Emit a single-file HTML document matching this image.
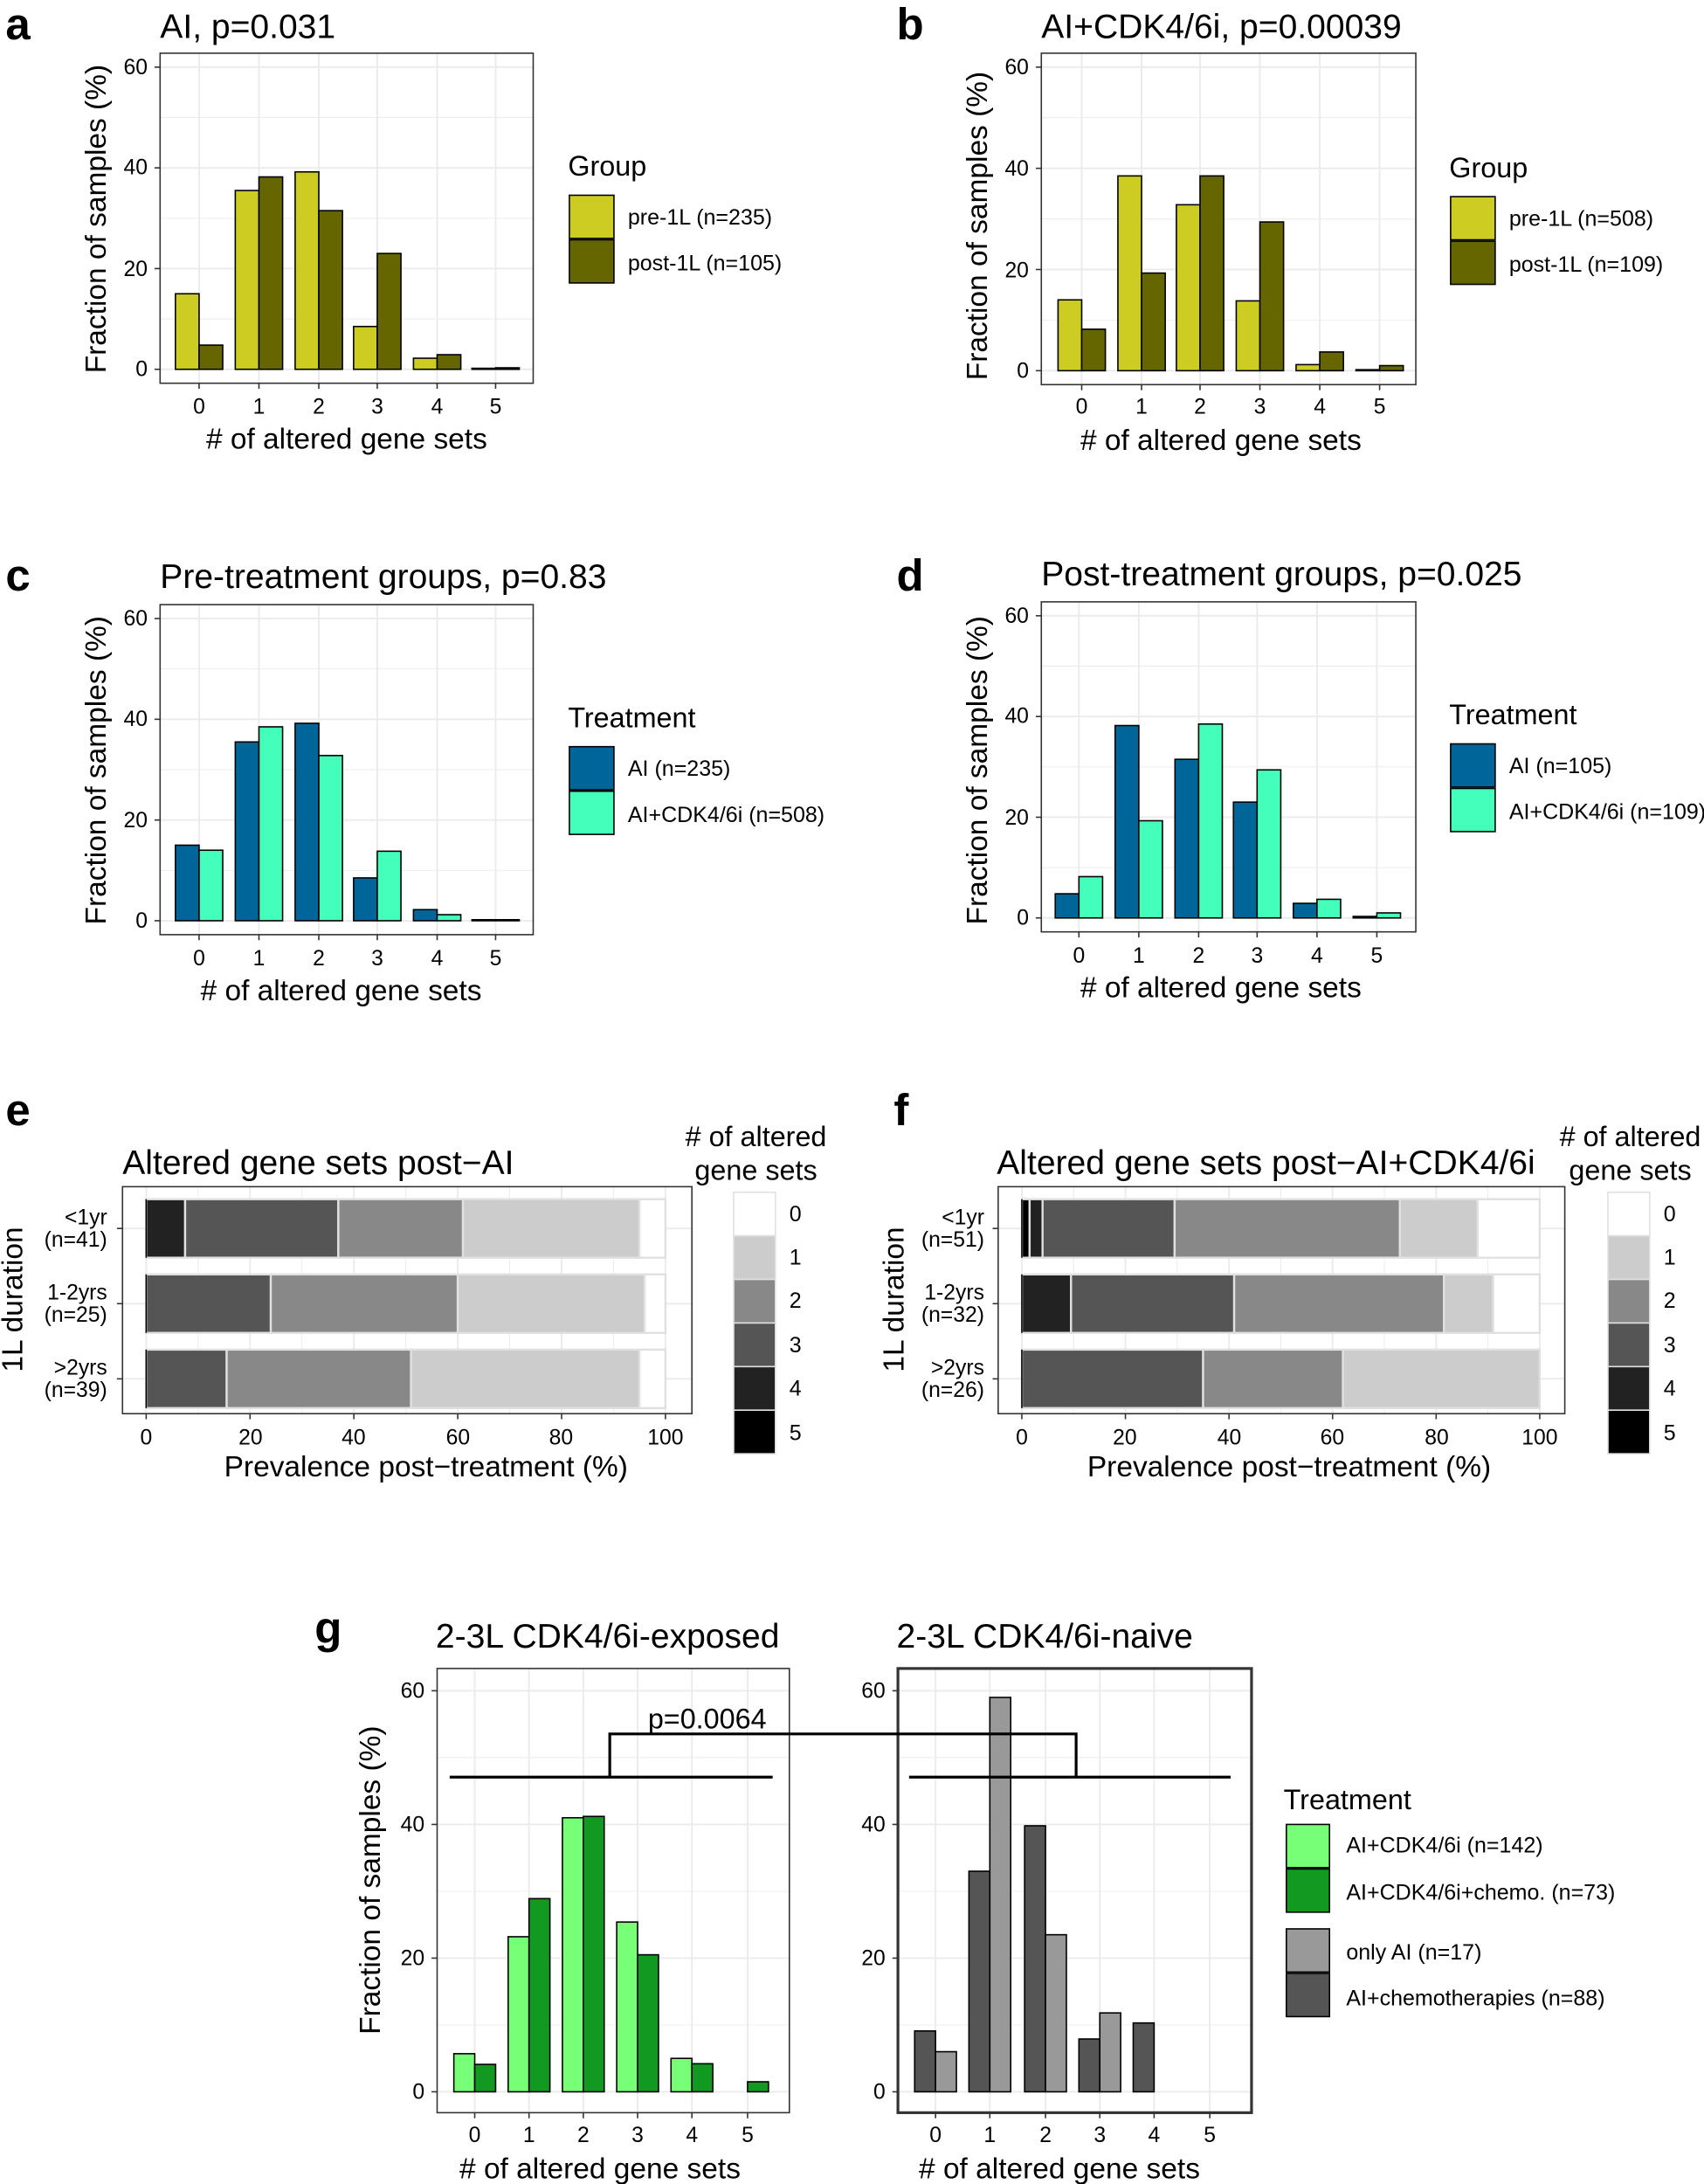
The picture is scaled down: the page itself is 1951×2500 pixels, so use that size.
<!DOCTYPE html>
<html><head><meta charset="utf-8"><style>
html,body{margin:0;padding:0;background:#fff}
svg{display:block}
text{font-family:"Liberation Sans",sans-serif;fill:#000}
.t{font-size:24.5px}.ax{font-size:21px}.tk{font-size:15.5px;fill:#4d4d4d}.lg{font-size:15.7px}.lt{font-size:20.3px}.pl{font-size:32px;font-weight:bold}
</style></head><body>
<svg id="s" width="1951" height="2500" viewBox="0 0 1224 1568" xmlns="http://www.w3.org/2000/svg">
<rect width="1224" height="1568" fill="#fff"/>
<g id="g"></g>
<text class="pl" x="4" y="28">a</text><text class="pl" x="644" y="28">b</text>
<text class="pl" x="4" y="424">c</text><text class="pl" x="644" y="424">d</text>
<text class="pl" x="4" y="808">e</text><text class="pl" x="642" y="808">f</text>
<text class="pl" x="226" y="1180">g</text>
<text class="t" x="115" y="27">AI, p=0.031</text>
<text class="t" x="748" y="27">AI+CDK4/6i, p=0.00039</text>
<text class="t" x="115" y="422">Pre-treatment groups, p=0.83</text>
<text class="t" x="748" y="420">Post-treatment groups, p=0.025</text>
<text class="t" x="88" y="843">Altered gene sets post−AI</text>
<text class="t" x="716" y="843">Altered gene sets post−AI+CDK4/6i</text>
<text class="t" x="313" y="1183">2-3L CDK4/6i-exposed</text>
<text class="t" x="644" y="1183">2-3L CDK4/6i-naive</text>
<text class="ax" x="249" y="322" text-anchor="middle"># of altered gene sets</text>
<text class="ax" x="877" y="323" text-anchor="middle"># of altered gene sets</text>
<text class="ax" x="245" y="718" text-anchor="middle"># of altered gene sets</text>
<text class="ax" x="877" y="716" text-anchor="middle"># of altered gene sets</text>
<text class="ax" x="306" y="1060" text-anchor="middle">Prevalence post−treatment (%)</text>
<text class="ax" x="926" y="1060" text-anchor="middle">Prevalence post−treatment (%)</text>
<text class="ax" x="431" y="1564" text-anchor="middle"># of altered gene sets</text>
<text class="ax" x="761" y="1564" text-anchor="middle"># of altered gene sets</text>
<text class="ax" transform="translate(76,157) rotate(-90)" text-anchor="middle">Fraction of samples (%)</text>
<text class="ax" transform="translate(709,162) rotate(-90)" text-anchor="middle">Fraction of samples (%)</text>
<text class="ax" transform="translate(76,553) rotate(-90)" text-anchor="middle">Fraction of samples (%)</text>
<text class="ax" transform="translate(709,553) rotate(-90)" text-anchor="middle">Fraction of samples (%)</text>
<text class="ax" transform="translate(16,933) rotate(-90)" text-anchor="middle">1L duration</text>
<text class="ax" transform="translate(649,933) rotate(-90)" text-anchor="middle">1L duration</text>
<text class="ax" transform="translate(273,1350) rotate(-90)" text-anchor="middle">Fraction of samples (%)</text>
<g class="tk" text-anchor="end">
<text x="106" y="270">0</text><text x="106" y="198">20</text><text x="106" y="125">40</text><text x="106" y="53">60</text>
<text x="739" y="271">0</text><text x="739" y="199">20</text><text x="739" y="126">40</text><text x="739" y="53">60</text>
<text x="106" y="666">0</text><text x="106" y="594">20</text><text x="106" y="521">40</text><text x="106" y="449">60</text>
<text x="739" y="664">0</text><text x="739" y="592">20</text><text x="739" y="519">40</text><text x="739" y="447">60</text>
<text x="305" y="1507">0</text><text x="305" y="1411">20</text><text x="305" y="1315">40</text><text x="305" y="1219">60</text>
<text x="636" y="1507">0</text><text x="636" y="1411">20</text><text x="636" y="1315">40</text><text x="636" y="1219">60</text>
<text x="77" y="879">&lt;1yr</text><text x="77" y="895">(n=41)</text>
<text x="77" y="933">1-2yrs</text><text x="77" y="949">(n=25)</text>
<text x="77" y="987">&gt;2yrs</text><text x="77" y="1003">(n=39)</text>
<text x="707" y="879">&lt;1yr</text><text x="707" y="895">(n=51)</text>
<text x="707" y="933">1-2yrs</text><text x="707" y="949">(n=32)</text>
<text x="707" y="987">&gt;2yrs</text><text x="707" y="1003">(n=26)</text>
</g>
<g class="tk" text-anchor="middle">
<text x="143" y="297">0</text><text x="186" y="297">1</text><text x="229" y="297">2</text><text x="271" y="297">3</text><text x="314" y="297">4</text><text x="356" y="297">5</text>
<text x="777" y="297">0</text><text x="820" y="297">1</text><text x="862" y="297">2</text><text x="905" y="297">3</text><text x="948" y="297">4</text><text x="991" y="297">5</text>
<text x="143" y="693">0</text><text x="186" y="693">1</text><text x="229" y="693">2</text><text x="271" y="693">3</text><text x="314" y="693">4</text><text x="356" y="693">5</text>
<text x="775" y="691">0</text><text x="818" y="691">1</text><text x="861" y="691">2</text><text x="903" y="691">3</text><text x="946" y="691">4</text><text x="989" y="691">5</text>
<text x="105" y="1037">0</text><text x="180" y="1037">20</text><text x="254" y="1037">40</text><text x="329" y="1037">60</text><text x="403" y="1037">80</text><text x="478" y="1037">100</text>
<text x="734" y="1037">0</text><text x="808" y="1037">20</text><text x="883" y="1037">40</text><text x="957" y="1037">60</text><text x="1032" y="1037">80</text><text x="1106" y="1037">100</text>
<text x="341" y="1538">0</text><text x="380" y="1538">1</text><text x="419" y="1538">2</text><text x="458" y="1538">3</text><text x="497" y="1538">4</text><text x="537" y="1538">5</text>
<text x="672" y="1538">0</text><text x="711" y="1538">1</text><text x="751" y="1538">2</text><text x="790" y="1538">3</text><text x="829" y="1538">4</text><text x="869" y="1538">5</text>
</g>
<text class="lt" x="408" y="126">Group</text>
<rect x="409" y="140" width="32" height="31" fill="#cccc22" stroke="#000"/><rect x="409" y="172" width="32" height="31" fill="#666600" stroke="#000"/>
<text class="lg" x="451" y="161">pre-1L (n=235)</text><text class="lg" x="451" y="194">post-1L (n=105)</text>
<text class="lt" x="1041" y="127">Group</text>
<rect x="1042" y="141" width="32" height="31" fill="#cccc22" stroke="#000"/><rect x="1042" y="173" width="32" height="31" fill="#666600" stroke="#000"/>
<text class="lg" x="1084" y="162">pre-1L (n=508)</text><text class="lg" x="1084" y="195">post-1L (n=109)</text>
<text class="lt" x="408" y="522">Treatment</text>
<rect x="409" y="536" width="32" height="31" fill="#006699" stroke="#000"/><rect x="409" y="568" width="32" height="31" fill="#44ffbb" stroke="#000"/>
<text class="lg" x="451" y="557">AI (n=235)</text><text class="lg" x="451" y="590">AI+CDK4/6i (n=508)</text>
<text class="lt" x="1041" y="520">Treatment</text>
<rect x="1042" y="534" width="32" height="31" fill="#006699" stroke="#000"/><rect x="1042" y="566" width="32" height="31" fill="#44ffbb" stroke="#000"/>
<text class="lg" x="1084" y="555">AI (n=105)</text><text class="lg" x="1084" y="588">AI+CDK4/6i (n=109)</text>
<text class="lt" x="543" y="823" text-anchor="middle"># of altered</text><text class="lt" x="543" y="847" text-anchor="middle">gene sets</text>
<text class="lt" x="1171" y="823" text-anchor="middle"># of altered</text><text class="lt" x="1171" y="847" text-anchor="middle">gene sets</text>
<g class="lg">
<text x="567" y="877">0</text><text x="567" y="908">1</text><text x="567" y="939">2</text><text x="567" y="971">3</text><text x="567" y="1002">4</text><text x="567" y="1034">5</text>
<text x="1195" y="877">0</text><text x="1195" y="908">1</text><text x="1195" y="939">2</text><text x="1195" y="971">3</text><text x="1195" y="1002">4</text><text x="1195" y="1034">5</text>
</g>
<text class="lt" x="922" y="1299">Treatment</text>
<rect x="924" y="1310" width="31" height="31" fill="#77ff77" stroke="#000"/><rect x="924" y="1342" width="31" height="31" fill="#119922" stroke="#000"/>
<rect x="924" y="1385" width="31" height="31" fill="#999" stroke="#000"/><rect x="924" y="1417" width="31" height="31" fill="#555" stroke="#000"/>
<text class="lg" x="967" y="1330">AI+CDK4/6i (n=142)</text><text class="lg" x="967" y="1364">AI+CDK4/6i+chemo. (n=73)</text>
<text class="lg" x="967" y="1407">only AI (n=17)</text><text class="lg" x="967" y="1440">AI+chemotherapies (n=88)</text>
<g stroke="#000" stroke-width="2" fill="none">
<line x1="323" y1="1276" x2="555" y2="1276"/><line x1="653" y1="1276" x2="884" y2="1276"/>
<polyline points="438,1276 438,1245 773,1245 773,1276"/>
</g>
<text class="lt" x="508" y="1241" text-anchor="middle">p=0.0064</text>
</svg>
<script>
var NS="http://www.w3.org/2000/svg",G=document.getElementById("g");
function el(t,a){var e=document.createElementNS(NS,t);for(var k in a)e.setAttribute(k,a[k]);G.appendChild(e);return e;}
function vbar(o){
 var sc=(o.y0-o.y60)/60;
 for(var v=10;v<=60;v+=10){var y=o.y0-v*sc;el("line",{x1:o.x1,x2:o.x2,y1:y,y2:y,stroke:"#ebebeb","stroke-width":v%20?0.6:1.2});}
 el("line",{x1:o.x1,x2:o.x2,y1:o.y0,y2:o.y0,stroke:"#ebebeb","stroke-width":1.2});
 o.ticks.forEach(function(t){el("line",{x1:t,x2:t,y1:o.yt,y2:o.yb,stroke:"#ebebeb","stroke-width":1.2});
  el("line",{x1:t,x2:t,y1:o.yb,y2:o.yb+4,stroke:"#333"});});
 [0,20,40,60].forEach(function(v){var y=o.y0-v*sc;el("line",{x1:o.x1-4,x2:o.x1,y1:y,y2:y,stroke:"#333"});});
 var w=o.w;
 o.ticks.forEach(function(t,i){
  [[o.s1,o.c1,t-w],[o.s2,o.c2,t]].forEach(function(s){var v=s[0][i];if(v==null)return;var h=v*sc;
   el("rect",{x:s[2],y:o.y0-h,width:w,height:Math.max(h,0.5),fill:s[1],stroke:"#000","stroke-width":1});});
 });
 el("rect",{x:o.x1,y:o.yt,width:o.x2-o.x1,height:o.yb-o.yt,fill:"none",stroke:"#333","stroke-width":o.frame||1});
}
var yl="#cccc22",ol="#666600",bl="#006699",aq="#44ffbb";
var A1=[15,35.5,39.2,8.5,2.2,0.2],A2=[4.8,38.2,31.5,23,2.9,0.3],B1=[14,38.5,32.8,13.8,1.2,0.2],B2=[8.2,19.3,38.5,29.4,3.7,1.0];
var ta=[143,186,229,271,314,356],tb=[777,820,862,905,948,991],td=[775,818,861,903,946,989];
vbar({x1:115,x2:383,yt:38,yb:275,y0:265,y60:48,ticks:ta,s1:A1,s2:A2,c1:yl,c2:ol,w:17});
vbar({x1:748,x2:1017,yt:38,yb:276,y0:266,y60:48,ticks:tb,s1:B1,s2:B2,c1:yl,c2:ol,w:17});
vbar({x1:115,x2:383,yt:434,yb:671,y0:661,y60:444,ticks:ta,s1:A1,s2:B1,c1:bl,c2:aq,w:17});
vbar({x1:748,x2:1017,yt:432,yb:669,y0:659,y60:442,ticks:td,s1:A2,s2:B2,c1:bl,c2:aq,w:17});
vbar({x1:314,x2:567,yt:1198,yb:1517,y0:1502,y60:1214,ticks:[341,380,419,458,497,537],s1:[5.7,23.2,41,25.4,5,null],s2:[4.1,28.9,41.2,20.5,4.2,1.5],c1:"#77ff77",c2:"#119922",w:15});
vbar({x1:645,x2:899,yt:1198,yb:1517,y0:1502,y60:1214,ticks:[672,711,751,790,829,869],s1:[9.1,33,39.8,7.9,10.3,null],s2:[6,59,23.5,11.8,null,null],c1:"#555",c2:"#999",w:15,frame:2});
var gc=["#fff","#cccccc","#888888","#555555","#222222","#000"];
function hbar(x1,x2,x0,x100,rows,lx){
 var sc=(x100-x0)/100,yt=852,yb=1015;
 for(var v=0;v<=100;v+=10){var x=x0+v*sc;el("line",{x1:x,x2:x,y1:yt,y2:yb,stroke:"#ebebeb","stroke-width":v%20?0.6:1.2});
  if(v%20==0)el("line",{x1:x,x2:x,y1:yb,y2:yb+4,stroke:"#333"});}
 [882,936,990].forEach(function(y,r){el("line",{x1:x1,x2:x2,y1:y,y2:y,stroke:"#ebebeb","stroke-width":1.2});
  el("line",{x1:x1-4,x2:x1,y1:y,y2:y,stroke:"#333"});
  rows[r].forEach(function(s){el("rect",{x:x0+s[1]*sc,y:y-21,width:(s[2]-s[1])*sc,height:42,fill:gc[s[0]],stroke:"#e0e0e0","stroke-width":1.5});});
  el("line",{x1:x0,x2:x0,y1:y-21,y2:y+21,stroke:"#000"});});
 el("rect",{x:x1,y:yt,width:x2-x1,height:yb-yt,fill:"none",stroke:"#333"});
 for(var i=0;i<6;i++)el("rect",{x:lx,y:856+i*31.3,width:30,height:31.3,fill:gc[i],stroke:"#e0e0e0"});
}
hbar(88,497,105,478,[[[4,0,7.5],[3,7.5,37],[2,37,61],[1,61,95],[0,95,100]],[[3,0,24],[2,24,60],[1,60,96],[0,96,100]],[[3,0,15.5],[2,15.5,51],[1,51,95],[0,95,100]]],527);
hbar(717,1124,734,1106,[[[5,0,1.5],[4,1.5,4],[3,4,29.5],[2,29.5,73],[1,73,88],[0,88,100]],[[4,0,9.5],[3,9.5,41],[2,41,81.5],[1,81.5,91],[0,91,100]],[[3,0,35],[2,35,62],[1,62,100]]],1155);
</script>
</body></html>
